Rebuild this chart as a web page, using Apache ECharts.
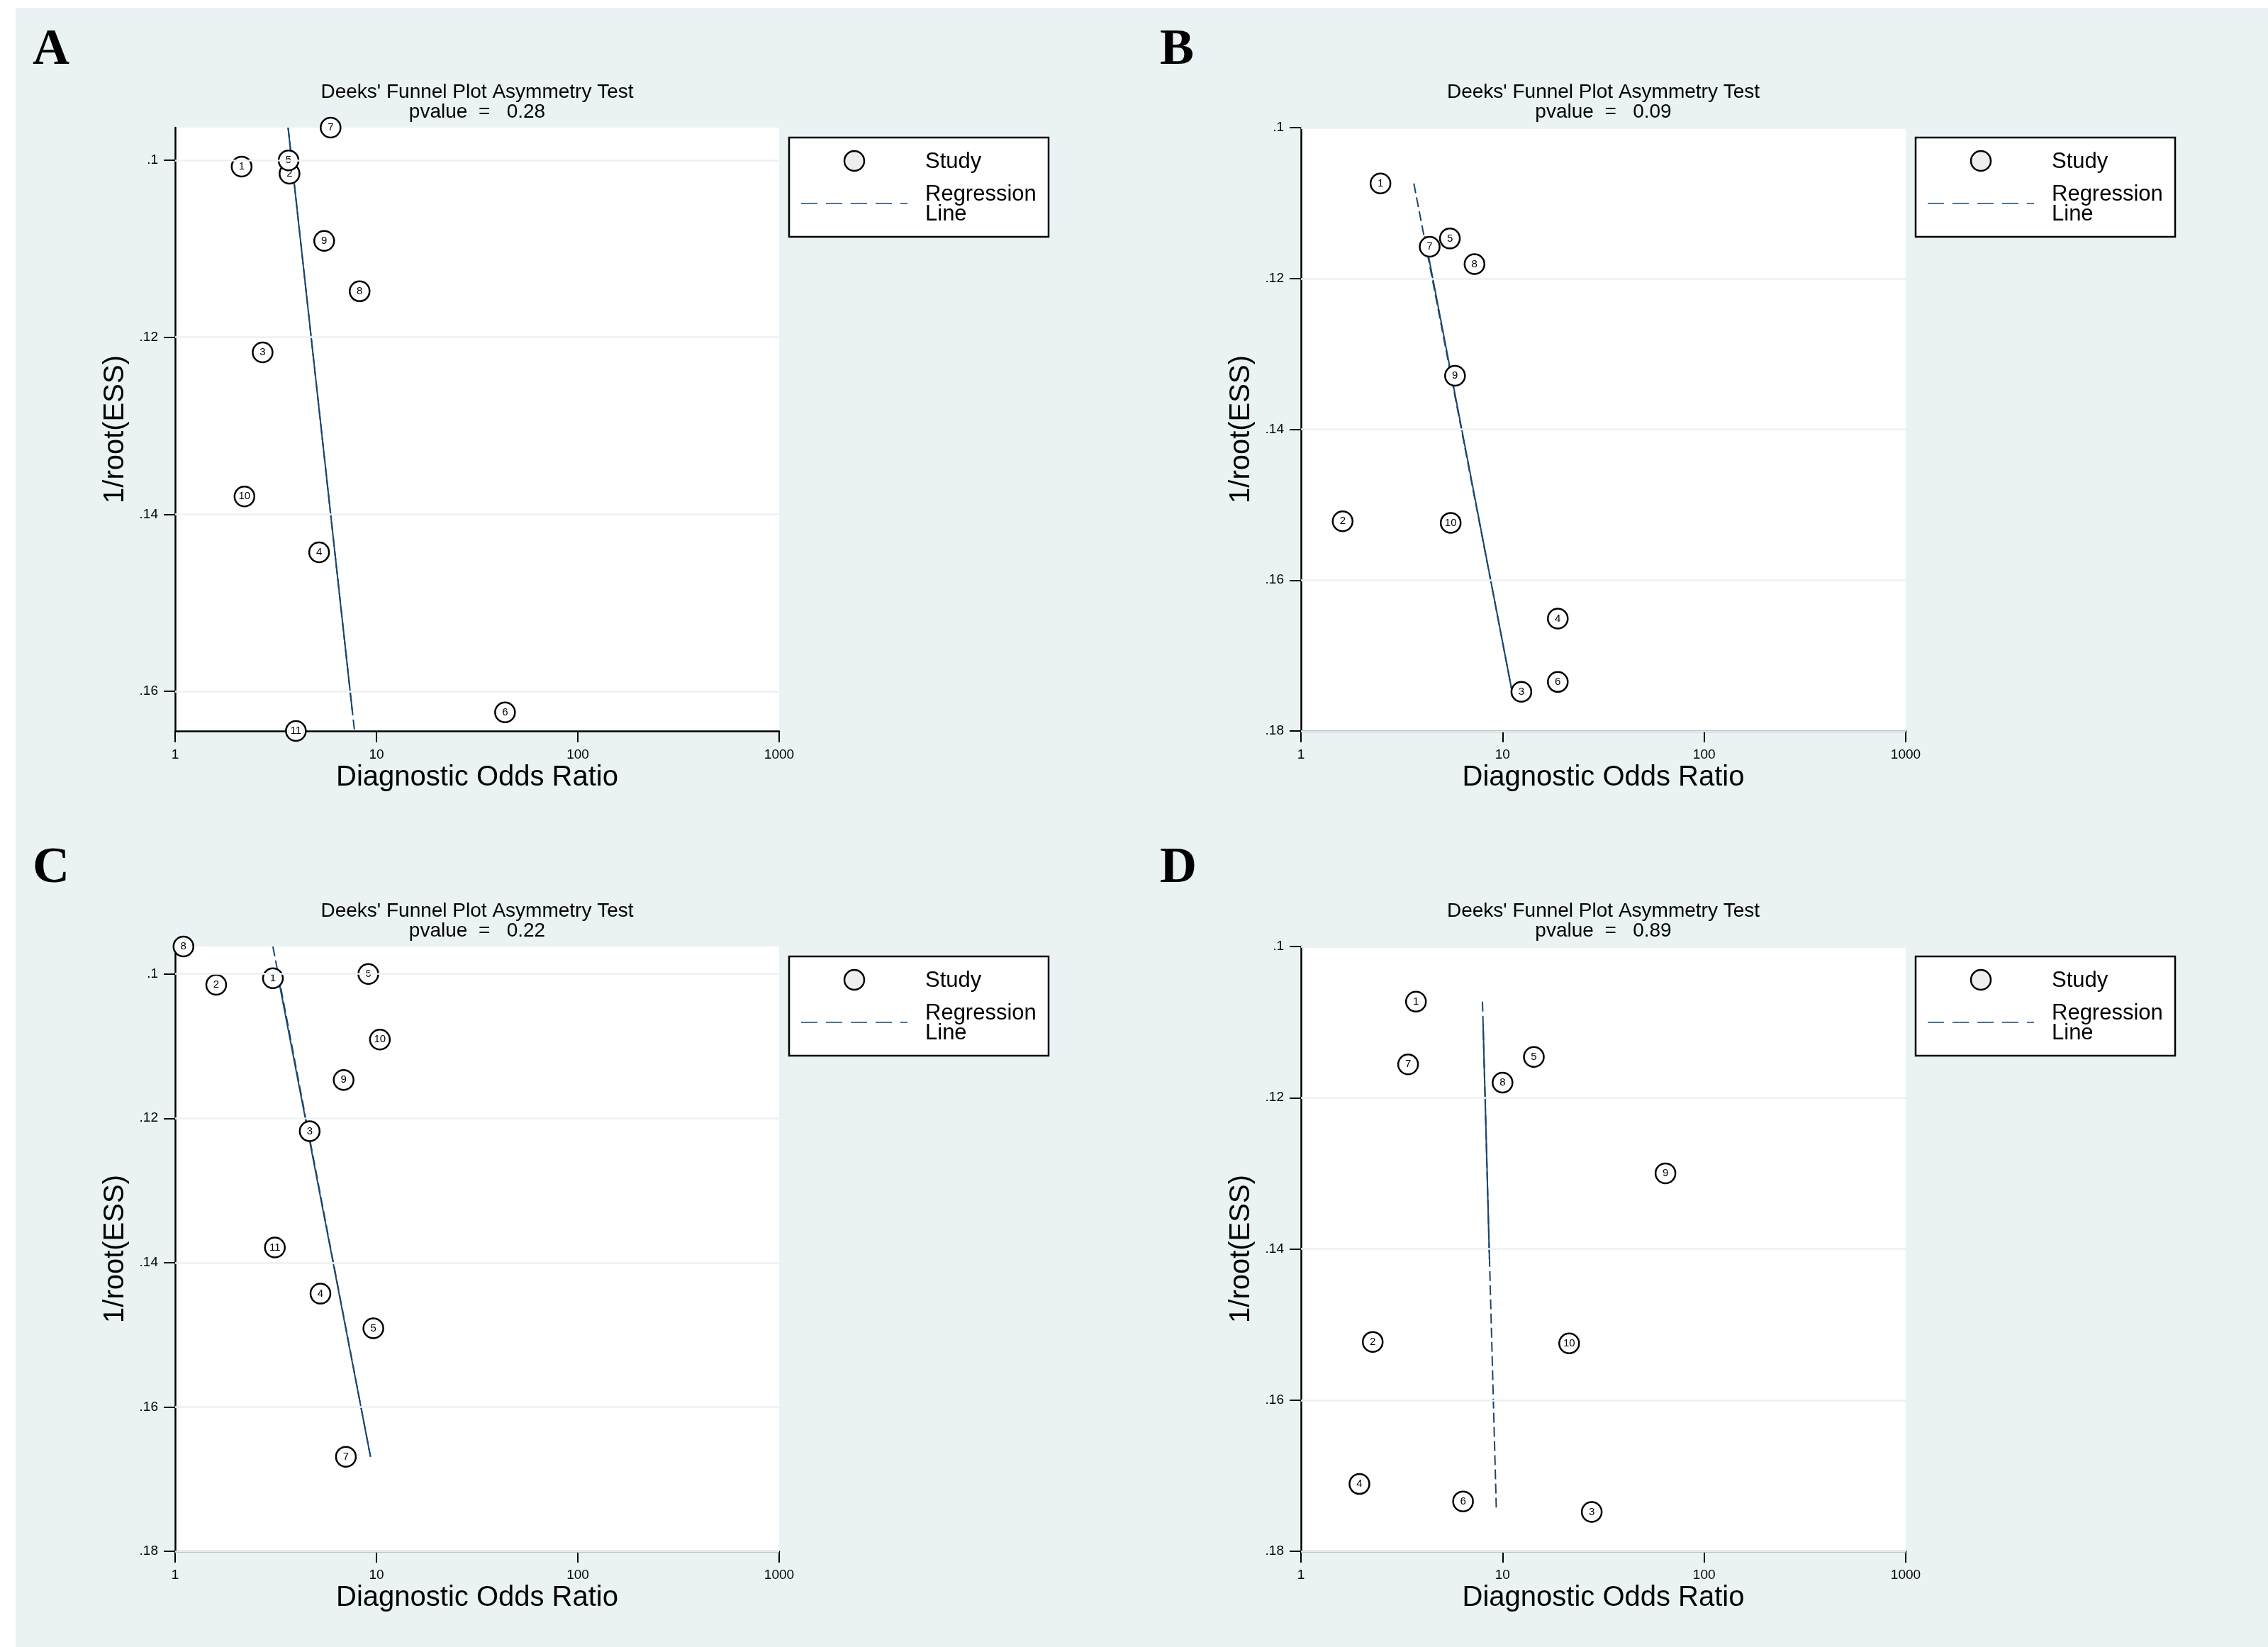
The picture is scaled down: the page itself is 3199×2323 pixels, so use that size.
<!DOCTYPE html>
<html>
<head>
<meta charset="utf-8">
<script src="https://cdn.jsdelivr.net/npm/echarts@6/dist/echarts.min.js"></script>
<style>
html, body { margin: 0; padding: 0; background: #fff; overflow: hidden; }
#main { width: 3199px; height: 2323px; }
</style>
</head>
<body>
<div id="main"></div>
<script>
// study numbers, diagnostic odds ratio (x) and 1/root(ESS) (y) per panel
var studyA = ['1', '2', '3', '4', '5', '6', '7', '8', '9', '10', '11'];
var dorA = [2.14, 3.70, 2.72, 5.19, 3.66, 43.5, 5.92, 8.25, 5.50, 2.21, 3.98];
var essA = [0.1007, 0.1015, 0.1217, 0.1443, 0.1000, 0.1624, 0.0963, 0.1148, 0.1091, 0.1380, 0.1645];

var studyB = ['1', '2', '3', '4', '5', '6', '7', '8', '9', '10'];
var dorB = [2.48, 1.61, 12.4, 18.8, 5.48, 18.8, 4.35, 7.26, 5.81, 5.53];
var essB = [0.1074, 0.1522, 0.1748, 0.1651, 0.1147, 0.1735, 0.1158, 0.1181, 0.1329, 0.1524];

var studyC = ['1', '2', '3', '4', '5', '6', '7', '8', '9', '10', '11'];
var dorC = [3.06, 1.60, 4.66, 5.27, 9.65, 9.11, 7.05, 1.10, 6.87, 10.4, 3.13];
var essC = [0.1006, 0.1015, 0.1218, 0.1443, 0.1491, 0.1000, 0.1669, 0.0962, 0.1147, 0.1091, 0.1379];

var studyD = ['1', '2', '3', '4', '5', '6', '7', '8', '9', '10'];
var dorD = [3.72, 2.27, 27.7, 1.95, 14.3, 6.37, 3.40, 10.0, 64.3, 21.4];
var essD = [0.1073, 0.1523, 0.1748, 0.1711, 0.1146, 0.1734, 0.1156, 0.1180, 0.1300, 0.1525];

// regression line: full (dashed) and the part that shows solid
var regA = [[3.64, 0.0963], [7.78, 0.1645]];
var regSolidA = [[3.64, 0.0963], [7.60, 0.1624]];
var regB = [[3.63, 0.1074], [11.1, 0.1745]];
var regSolidB = [[4.11, 0.1144], [11.1, 0.1745]];
var regC = [[3.06, 0.0962], [9.34, 0.1669]];
var regSolidC = [[3.24, 0.1003], [9.34, 0.1669]];
var regD = [[7.95, 0.1073], [9.31, 0.1742]];
var regSolidD = [[8.01, 0.1103], [8.61, 0.1413]];

var yRangeA = [0.0963, 0.1645];
var yRangeB = [0.1, 0.18];
var yRangeC = [0.0962, 0.18];
var yRangeD = [0.1, 0.18];
var yTicksA = [0.1, 0.12, 0.14, 0.16];
var yTicksB = [0.1, 0.12, 0.14, 0.16, 0.18];
var yTicksC = [0.1, 0.12, 0.14, 0.16, 0.18];
var yTicksD = [0.1, 0.12, 0.14, 0.16, 0.18];

var letters = ['A', 'B', 'C', 'D'];
var pvalues = ['0.28', '0.09', '0.22', '0.89'];

var FONT = "'Liberation Sans', Arial, sans-serif";
var BG = '#eaf2f3';
var NAVY = '#1a476f';

var myChart = echarts.init(document.getElementById('main'));

var panels = [
    {gx: 247, gy: 180, gw: 852, gh: 851, lx: 46, ly: 71, study: studyA, dor: dorA, ess: essA, reg: regA, solid: regSolidA, yr: yRangeA, yt: yTicksA},
    {gx: 1835, gy: 180, gw: 853, gh: 851, lx: 1636, ly: 71, study: studyB, dor: dorB, ess: essB, reg: regB, solid: regSolidB, yr: yRangeB, yt: yTicksB},
    {gx: 247, gy: 1335, gw: 852, gh: 853, lx: 46, ly: 1225, study: studyC, dor: dorC, ess: essC, reg: regC, solid: regSolidC, yr: yRangeC, yt: yTicksC},
    {gx: 1835, gy: 1335, gw: 853, gh: 853, lx: 1636, ly: 1225, study: studyD, dor: dorD, ess: essD, reg: regD, solid: regSolidD, yr: yRangeD, yt: yTicksD}
];

var grids = [], xAxes = [], yAxes = [], series = [];
var graphics = [
    {type: 'rect', shape: {x: 0, y: 0, width: 22, height: 2323}, style: {fill: '#fff'}, silent: true},
    {type: 'rect', shape: {x: 0, y: 0, width: 3199, height: 11}, style: {fill: '#fff'}, silent: true}
];

panels.forEach(function (p, i) {
    grids.push({left: p.gx, top: p.gy, width: p.gw, height: p.gh, show: true, backgroundColor: '#fff', borderWidth: 0});

    xAxes.push({
        type: 'log', logBase: 10, gridIndex: i, min: 1, max: 1000, position: 'bottom',
        name: 'Diagnostic Odds Ratio', nameLocation: 'middle', nameGap: 46,
        nameTextStyle: {fontFamily: FONT, fontSize: 40, color: '#000'},
        axisLine: {onZero: false, lineStyle: {color: '#000', width: 2.5}},
        axisTick: {length: 16, lineStyle: {color: '#000', width: 2}},
        minorTick: {show: false},
        axisLabel: {
            fontFamily: FONT, fontSize: 19, color: '#000', margin: 24,
            formatter: function (v) { return String(Math.round(v)); }
        },
        splitLine: {show: false}
    });

    yAxes.push({
        type: 'value', gridIndex: i, inverse: true, min: p.yr[0], max: p.yr[1], position: 'left',
        name: '1/root(ESS)', nameLocation: 'middle', nameGap: 64,
        nameTextStyle: {fontFamily: FONT, fontSize: 40, color: '#000'},
        axisLine: {show: true, onZero: false, lineStyle: {color: '#000', width: 2.5}},
        axisTick: {show: true, length: 16, customValues: p.yt, lineStyle: {color: '#000', width: 2}},
        axisLabel: {
            fontFamily: FONT, fontSize: 19, color: '#000', margin: 24, customValues: p.yt,
            formatter: function (v) { return String(+v.toFixed(4)).replace(/^0\./, '.'); }
        },
        splitLine: {show: false}
    });

    // horizontal gridlines at the y ticks
    series.push({
        type: 'line', xAxisIndex: i, yAxisIndex: i, data: [], z: 1, silent: true,
        markLine: {
            silent: true, symbol: ['none', 'none'], animation: false,
            label: {show: false},
            lineStyle: {color: BG, width: 2.5, type: 'solid'},
            data: p.yt.map(function (v) { return {yAxis: v}; })
        }
    });

    series.push({
        type: 'line', xAxisIndex: i, yAxisIndex: i, data: p.reg, symbol: 'none', z: 2, silent: true,
        lineStyle: {color: NAVY, width: 2, type: [14, 6]}, animation: false
    });
    series.push({
        type: 'line', xAxisIndex: i, yAxisIndex: i, data: p.solid, symbol: 'none', z: 3, silent: true,
        lineStyle: {color: NAVY, width: 2, type: 'solid'}, animation: false
    });

    var pts = [];
    for (var k = 0; k < p.study.length; k++) {
        pts.push({name: p.study[k], value: [p.dor[k], p.ess[k]]});
    }
    series.push({
        type: 'scatter', xAxisIndex: i, yAxisIndex: i, data: pts, z: 4, clip: false,
        symbol: 'circle', symbolSize: 28,
        itemStyle: {color: '#fff', borderColor: '#000', borderWidth: 2.5, opacity: 1},
        label: {show: true, position: 'inside', formatter: '{b}', fontFamily: FONT, fontSize: 15, color: '#000'},
        animation: false
    });

    // panel letter, title and legend
    var cx = p.gx + p.gw / 2;
    graphics.push({type: 'text', x: p.lx, y: p.ly, style: {text: letters[i], font: "bold 72px 'Liberation Serif', 'Times New Roman', serif", fill: '#000', align: 'left', verticalAlign: 'middle'}});
    graphics.push({type: 'text', x: cx, y: p.gy - 50, style: {text: "Deeks' Funnel Plot Asymmetry Test", font: '28px ' + FONT, fill: '#000', align: 'center', verticalAlign: 'middle'}});
    graphics.push({type: 'text', x: cx, y: p.gy - 22, style: {text: 'pvalue  =   ' + pvalues[i], font: '28px ' + FONT, fill: '#000', align: 'center', verticalAlign: 'middle'}});

    var bx = p.gx + p.gw + 14, by = p.gy + 14;
    graphics.push({type: 'rect', shape: {x: bx, y: by, width: 366, height: 140}, style: {fill: '#fff', stroke: '#000', lineWidth: 2.5}});
    graphics.push({type: 'circle', shape: {cx: bx + 92, cy: by + 33, r: 14}, style: {fill: '#eeeeee', stroke: '#000', lineWidth: 2.5}});
    graphics.push({type: 'text', x: bx + 192, y: by + 34, style: {text: 'Study', font: '31px ' + FONT, fill: '#000', align: 'left', verticalAlign: 'middle'}});
    graphics.push({type: 'line', shape: {x1: bx + 17, y1: by + 93, x2: bx + 167, y2: by + 93}, style: {stroke: '#4d7399', lineWidth: 2, lineDash: [23, 12]}});
    graphics.push({type: 'text', x: bx + 192, y: by + 80, style: {text: 'Regression', font: '31px ' + FONT, fill: '#000', align: 'left', verticalAlign: 'middle'}});
    graphics.push({type: 'text', x: bx + 192, y: by + 108, style: {text: 'Line', font: '31px ' + FONT, fill: '#000', align: 'left', verticalAlign: 'middle'}});
});

var option = {
    backgroundColor: BG,
    animation: false,
    grid: grids,
    xAxis: xAxes,
    yAxis: yAxes,
    series: series,
    graphic: graphics
};
myChart.setOption(option);
</script>
</body>
</html>
